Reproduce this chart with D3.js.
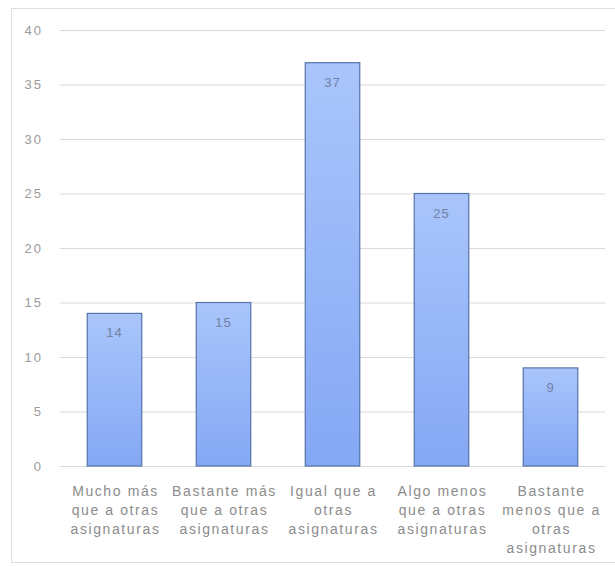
<!DOCTYPE html>
<html>
<head>
<meta charset="utf-8">
<script src="https://cdn.jsdelivr.net/npm/d3@7"></script>
<style>
  body { margin: 0; background: #fff; }
  text { font-family: "Liberation Sans", Arial, sans-serif; }
</style>
</head>
<body>
<div id="chart"></div>
<script>
var svgWidth = 615;
var svgHeight = 566;

var margin = { top: 30, right: 10, bottom: 100, left: 60 };

// chart data
var categories = [
  ["Mucho más", "que a otras", "asignaturas"],
  ["Bastante más", "que a otras", "asignaturas"],
  ["Igual que a", "otras", "asignaturas"],
  ["Algo menos", "que a otras", "asignaturas"],
  ["Bastante", "menos que a", "otras", "asignaturas"]
];
var values = [14, 15, 37, 25, 9];
var yTicks = [0, 5, 10, 15, 20, 25, 30, 35, 40];

var width = svgWidth - margin.left - margin.right;
var height = 466 - margin.top;

var svg = d3.select("#chart")
  .append("svg")
  .attr("width", svgWidth)
  .attr("height", svgHeight);

// outer frame
svg.append("rect")
  .attr("x", 11.5)
  .attr("y", 8.5)
  .attr("width", 620)
  .attr("height", 554)
  .attr("fill", "none")
  .attr("stroke", "#dedede");

var defs = svg.append("defs");
var grad = defs.append("linearGradient")
  .attr("id", "barGrad")
  .attr("x1", 0).attr("y1", 0).attr("x2", 0).attr("y2", 1);
grad.append("stop").attr("offset", "0%").attr("stop-color", "#a9c5fb");
grad.append("stop").attr("offset", "100%").attr("stop-color", "#85a8f5");

var chartGroup = svg.append("g")
  .attr("transform", `translate(${margin.left}, ${margin.top})`);

var xScale = d3.scaleBand()
  .domain(d3.range(values.length))
  .range([0, width])
  .paddingInner(0.5)
  .paddingOuter(0.25);

var yScale = d3.scaleLinear()
  .domain([0, 40])
  .range([height, 0]);

// gridlines + y tick labels
var leftAxis = d3.axisLeft(yScale)
  .tickValues(yTicks)
  .tickSize(-width)
  .tickPadding(17);

var yAxis = chartGroup.append("g")
  .call(leftAxis);
yAxis.select(".domain").remove();
yAxis.selectAll(".tick line")
  .attr("stroke", "#d9d9d9");
yAxis.selectAll(".tick text")
  .attr("fill", "#9a9a9a")
  .style("font-size", "13px")
  .style("letter-spacing", "2px");

// bars
chartGroup.selectAll(".bar")
  .data(values)
  .enter()
  .append("rect")
  .attr("class", "bar")
  .attr("x", (d, i) => xScale(i))
  .attr("y", d => yScale(d))
  .attr("width", xScale.bandwidth())
  .attr("height", d => height - yScale(d))
  .attr("fill", "url(#barGrad)")
  .attr("stroke", "#5573a8")
  .attr("stroke-width", 1.2);

// value labels
chartGroup.selectAll(".val")
  .data(values)
  .enter()
  .append("text")
  .attr("class", "val")
  .attr("x", (d, i) => xScale(i) + xScale.bandwidth() / 2)
  .attr("y", d => yScale(d) + 24)
  .attr("text-anchor", "middle")
  .attr("fill", "#7282a6")
  .style("font-size", "13px")
  .style("letter-spacing", "1px")
  .text(d => d);

// x labels
var xLabels = chartGroup.selectAll(".xlab")
  .data(categories)
  .enter()
  .append("text")
  .attr("class", "xlab")
  .attr("text-anchor", "middle")
  .attr("fill", "#8c8c8c")
  .style("font-size", "14px")
  .style("letter-spacing", "1.6px")
  .attr("transform", (d, i) => `translate(${xScale(i) + xScale.bandwidth() / 2 + 1}, ${height + 30})`);

xLabels.selectAll("tspan")
  .data(d => d)
  .enter()
  .append("tspan")
  .attr("x", 0)
  .attr("y", (d, j) => j * 19)
  .text(d => d);
</script>
</body>
</html>
